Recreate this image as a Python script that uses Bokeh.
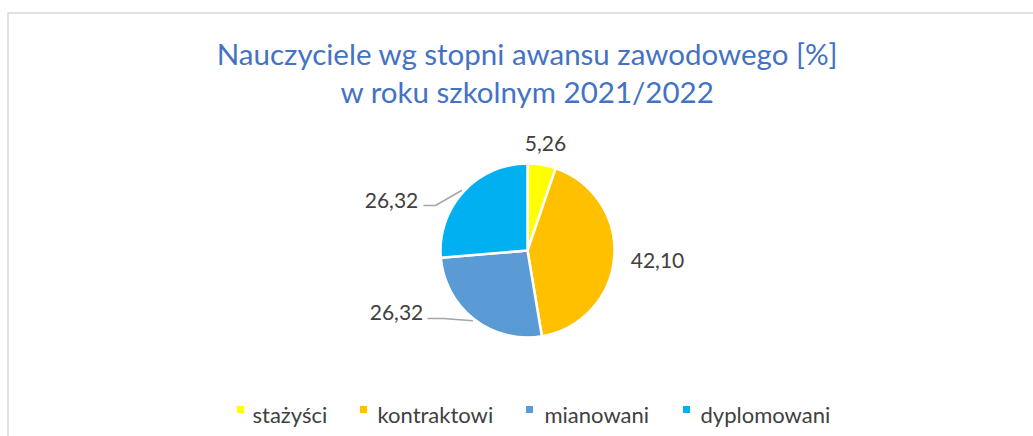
import math
from bokeh.plotting import figure
from bokeh.models import Range1d, ColumnDataSource
from bokeh.core.properties import value
from bokeh.embed import file_html
from bokeh.resources import INLINE

# ---- data ----
categories = ["stażyści", "kontraktowi", "mianowani", "dyplomowani"]
values = [5.26, 42.10, 26.32, 26.32]
colors = ["#FFFF00", "#FFC000", "#5B9BD5", "#00B0F0"]
title_lines = ["Nauczyciele wg stopni awansu zawodowego [%]", "w roku szkolnym 2021/2022"]

W, H = 1033, 436
FONT = "Lato"

def px(x):  # picture x -> data x
    return x

def py(y):  # picture y (from top) -> data y
    return H - y

p = figure(width=W, height=H, output_backend="svg", toolbar_location=None,
           x_range=Range1d(0, W), y_range=Range1d(0, H), min_border=0)
p.axis.visible = False
p.grid.visible = False
p.outline_line_color = None
p.background_fill_color = "white"
p.border_fill_color = "white"

# chart area border (only left/top visible in window)
p.line(x=[px(7.5), px(7.5), W + 20], y=[-10, py(12.5), py(12.5)],
       line_color="#D9D9D9", line_width=1.5)

# title
p.text(x=[px(527), px(527)], y=[py(53), py(91)], text=title_lines,
       text_font=value(FONT), text_font_size="29.5px", text_color="#4472C4",
       text_align="center", text_baseline="middle")

# pie
cx, cy, r = px(527), py(250), 87
total = sum(values)
starts, ends, mids = [], [], []
cum = 0.0
for v in values:
    a0 = math.pi / 2 - 2 * math.pi * cum / total
    cum += v
    a1 = math.pi / 2 - 2 * math.pi * cum / total
    starts.append(a0)
    ends.append(a1)
    mids.append((a0 + a1) / 2)

src = ColumnDataSource(dict(start=starts, end=ends, color=colors))
p.wedge(x=cx, y=cy, radius=r, start_angle="start", end_angle="end", direction="clock",
        fill_color="color", line_color="white", line_width=2.5, source=src)

# data labels
label_pos = [(545, 143), (657, 260), (396, 312), (391, 200)]
labels = [f"{v:.2f}".replace(".", ",") for v in values]
p.text(x=[px(a) for a, b in label_pos], y=[py(b) for a, b in label_pos], text=labels,
       text_font=value(FONT), text_font_size="21px", text_color="#404040",
       text_align="center", text_baseline="middle")

# leader lines for the two left slices
elbows = {2: [(427, 318), (443, 318)], 3: [(423, 205), (435, 205)]}
xs, ys = [], []
for i, pts in elbows.items():
    ex = cx + (r + 2) * math.cos(mids[i])
    ey = cy + (r + 2) * math.sin(mids[i])
    xs.append([px(pts[0][0]), px(pts[1][0]), ex])
    ys.append([py(pts[0][1]), py(pts[1][1]), ey])
p.multi_line(xs=xs, ys=ys, line_color="#A6A6A6", line_width=1.5)

# legend
sq_x = [240, 363, 529, 686]
tx_x = [252, 377, 544, 700]
ly = 414
p.scatter(x=[px(v) for v in sq_x], y=[py(409)] * 4, marker="square", size=7,
          fill_color=colors, line_color=None)
p.text(x=[px(v) for v in tx_x], y=[py(ly)] * 4, text=categories,
       text_font=value(FONT), text_font_size="22px", text_color="#404040",
       text_align="left", text_baseline="middle")

open("out.html", "w").write(file_html(p, INLINE))
